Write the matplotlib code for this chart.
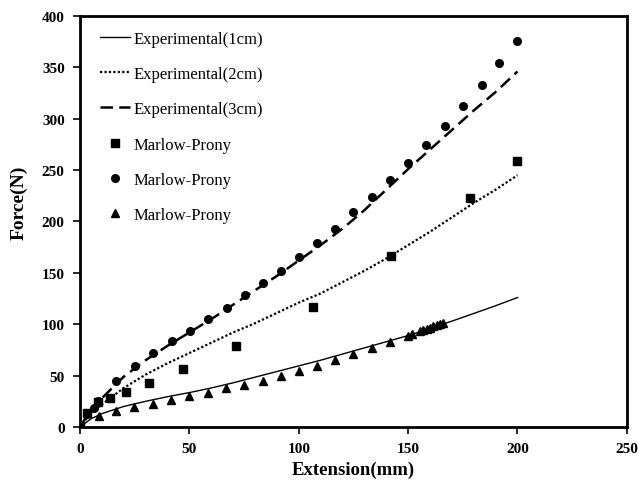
import numpy as np
import matplotlib.pyplot as plt

plt.rcParams["font.family"] = ["Liberation Serif", "DejaVu Serif"]

# experimental curves
x_exp = [0, 5, 10, 20, 30, 40, 50, 60, 70, 80, 90, 100, 110, 120, 130, 140, 150, 160, 170, 180, 190, 200]
f_1cm = [0, 8, 13, 20, 25, 29.5, 33.5, 38, 43, 48.5, 54, 59.5, 65, 71, 77, 83, 89, 96, 103, 110.5, 118, 126]
f_2cm = [0, 14, 22, 38, 51, 62, 72, 82, 92, 101, 111, 121, 130, 141, 152, 164, 177, 190, 204, 218, 231, 245]
f_3cm = [0, 17, 28, 49, 65, 79, 92, 105, 119, 133, 147, 162, 177, 193, 211, 231, 251, 270, 289, 308, 326, 346]

# Marlow-Prony model points
x_sq = [0, 3, 8, 13.7, 20.8, 31.5, 47.2, 71.3, 106.6, 142.1, 178.2, 200]
f_sq = [0, 14, 24, 28.5, 34.5, 43, 56.4, 79.1, 117.1, 166.7, 222.9, 259.2]

x_ci = [0, 3.2, 6.5, 8.4, 16.3, 25.1, 33.2, 41.9, 50.1, 58.4, 67.0, 75.4, 83.5, 91.9, 100.2, 108.2,
        116.5, 124.9, 133.3, 141.7, 150.1, 158.4, 166.8, 175.2, 183.6, 191.6, 200]
f_ci = [0, 12.6, 18.2, 25.8, 44.8, 59.0, 71.7, 83.4, 93.7, 105.1, 116.1, 128.5, 140.0, 152.1, 165.1, 179.0,
        192.7, 208.9, 224.1, 240.4, 256.9, 274.5, 293.3, 312.7, 332.8, 353.9, 376.0]

x_tr = [0, 8.7, 16.6, 24.8, 33.4, 41.7, 50.0, 58.4, 66.7, 75.1, 83.5, 91.7, 100.1, 108.5,
        116.5, 124.9, 133.3, 141.7, 150.1, 151.6, 155.4, 156.9, 158.5, 160.0, 161.5, 163.0, 164.5, 166.0]
f_tr = [0, 11.0, 15.3, 19.2, 22.4, 26.0, 29.9, 33.4, 38.0, 41.2, 45.1, 49.9, 54.8, 59.7,
        65.5, 71.0, 76.6, 82.4, 88.9, 90.5, 93.7, 94.7, 95.4, 96.6, 98.0, 99.3, 100.2, 101.2]

fig = plt.figure(figsize=(6.39, 4.85), dpi=100)
ax = fig.add_axes([0.1252, 0.1175, 0.8558, 0.8475])

ax.plot(x_exp, f_1cm, color='black', lw=1.0, label='Experimental(1cm)')
ax.plot(x_exp, f_2cm, color='black', lw=1.6, linestyle=(0, (1, 1)), label='Experimental(2cm)')
ax.plot(x_exp, f_3cm, color='black', lw=1.8, linestyle=(0, (5, 2.5)), label='Experimental(3cm)')
ax.plot(x_sq, f_sq, 's', color='black', ms=5.3, label='Marlow-Prony')
ax.plot(x_ci, f_ci, 'o', color='black', ms=5.5, label='Marlow-Prony')
ax.plot(x_tr, f_tr, '^', color='black', ms=5.3, label='Marlow-Prony')

ax.set_xlim(0, 250)
ax.set_ylim(0, 400)
ax.set_xticks(np.arange(0, 251, 50))
ax.set_yticks(np.arange(0, 401, 50))
for s in ax.spines.values():
    s.set_linewidth(2)
ax.tick_params(direction='out', length=5, width=1.2, labelsize=11, pad=6)
for lab in ax.get_xticklabels() + ax.get_yticklabels():
    lab.set_fontweight('bold')

ax.set_xlabel('Extension(mm)', fontsize=13.5, fontweight='bold')
ax.xaxis.set_label_coords(0.5, -0.083)
ax.set_ylabel('Force(N)', fontsize=14, fontweight='bold')
ax.yaxis.set_label_coords(-0.095, 0.547)

ax.legend(loc='upper left', frameon=False, fontsize=12, labelspacing=1.16,
          handlelength=1.8, handletextpad=0.2, borderaxespad=0.3, bbox_to_anchor=(0.015, 0.993))

fig.savefig('out.png', dpi=100)
